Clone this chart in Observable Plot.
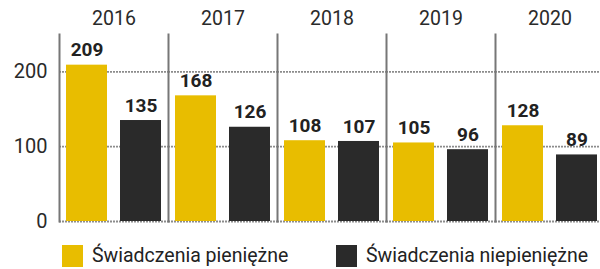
<!DOCTYPE html>
<html>
<head>
<meta charset="utf-8">
<script src="https://cdn.jsdelivr.net/npm/d3@7"></script>
<script src="https://cdn.jsdelivr.net/npm/@observablehq/plot@0.6"></script>
<style>
  html, body { margin: 0; padding: 0; background: #fff; overflow: hidden; width: 600px; height: 269px; }
  #chart { width: 606px; }
  .legend { font-family: Roboto, sans-serif; font-size: 19.5px; color: #222; height: 37px; position: relative; }
  .legend .item { position: absolute; top: 12px; display: flex; align-items: center; }
  .legend .sw { width: 21px; height: 22px; margin-right: 9px; }
</style>
</head>
<body>
<div id="chart"></div>
<script>
const years = ["2016", "2017", "2018", "2019", "2020"];
const series = ["Świadczenia pieniężne", "Świadczenia niepieniężne"];
const cash = [209, 168, 108, 105, 128];
const nonCash = [135, 126, 107, 96, 89];
const colors = ["#e8bd00", "#2a2a2a"];
const yTicks = [0, 100, 200];

const data = [];
years.forEach((yr, i) => {
  data.push({year: yr, series: series[0], value: cash[i]});
  data.push({year: yr, series: series[1], value: nonCash[i]});
});

const grid = {stroke: "#8c8c8c", strokeWidth: 1.8, strokeDasharray: "2,1"};

const plot = Plot.plot({
  width: 606,
  height: 232,
  marginLeft: 57,
  marginRight: 0,
  marginTop: 34,
  marginBottom: 11,
  style: {fontFamily: "Roboto, sans-serif", color: "#222", background: "#fff", overflow: "visible"},
  fx: {domain: years, padding: 0, label: null},
  x: {domain: series, paddingInner: 0.236, paddingOuter: 0.118, axis: null},
  y: {domain: [0, 250], label: null},
  color: {domain: series, range: colors},
  marks: [
    Plot.axisFx({anchor: "top", tickSize: 0, tickPadding: 10, fontSize: 19.5, fill: "#2a2a2a", label: null}),
    Plot.axisY(yTicks, {tickSize: 0, tickPadding: 12, fontSize: 20, fill: "#2a2a2a", label: null}),
    Plot.ruleY(yTicks, grid),
    Plot.frame({anchor: "left", stroke: "#777", strokeWidth: 2, strokeDasharray: "2,1", strokeOpacity: 1}),
    Plot.barY(data, {fx: "year", x: "series", y: "value", fill: "series"}),
    Plot.text(data, {fx: "year", x: "series", y: "value", text: d => String(d.value), dy: -15, fontWeight: "bold", fontSize: 19, fill: "#222"})
  ]
});
document.getElementById("chart").appendChild(plot);

const legend = document.createElement("div");
legend.className = "legend";
const lefts = [62, 336];
series.forEach((s, i) => {
  const item = document.createElement("div");
  item.className = "item";
  item.style.left = lefts[i] + "px";
  const sw = document.createElement("span");
  sw.className = "sw";
  sw.style.background = colors[i];
  const t = document.createElement("span");
  t.textContent = s;
  item.appendChild(sw);
  item.appendChild(t);
  legend.appendChild(item);
});
document.body.appendChild(legend);
</script>
</body>
</html>
